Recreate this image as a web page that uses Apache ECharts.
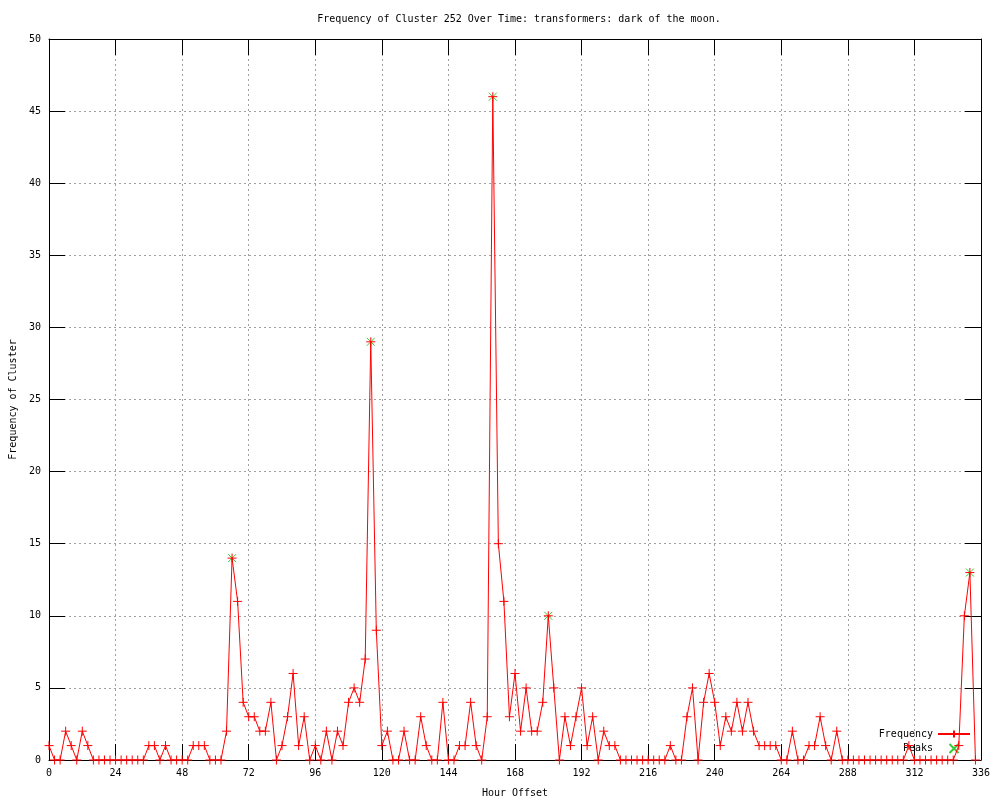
<!DOCTYPE html>
<html>
<head>
<meta charset="utf-8">
<script src="https://cdn.jsdelivr.net/npm/echarts@6/dist/echarts.min.js"></script>
<style>html,body{margin:0;padding:0;background:#fff}#c{width:1000px;height:800px}</style>
</head>
<body>
<div id="c"></div>
<script>
// Frequency per 2-hour step, starting at hour 0
const frequency = [
  1,0,0,2,1,0,2,1,0,0,0,0,
  0,0,0,0,0,0,1,1,0,1,0,0,
  0,0,1,1,1,0,0,0,2,14,11,4,
  3,3,2,2,4,0,1,3,6,1,3,0,
  1,0,2,0,2,1,4,5,4,7,29,9,
  1,2,0,0,2,0,0,3,1,0,0,4,
  0,0,1,1,4,1,0,3,46,15,11,3,
  6,2,5,2,2,4,10,5,0,3,1,3,
  5,1,3,0,2,1,1,0,0,0,0,0,
  0,0,0,0,1,0,0,3,5,0,4,6,
  4,1,3,2,4,2,4,2,1,1,1,1,
  0,0,2,0,0,1,1,3,1,0,2,0,
  0,0,0,0,0,0,0,0,0,0,0,1,
  0,0,0,0,0,0,0,0,1,10,13,0
];
const hourStep = 2;
const peakHours = [66, 116, 160, 180, 332];
const peakValues = [14, 29, 46, 10, 13];

const titleText = 'Frequency of Cluster 252 Over Time: transformers: dark of the moon.';
const xName = 'Hour Offset';
const yName = 'Frequency of Cluster';

const freqData = frequency.map((v, i) => [i * hourStep, v]);
const peakData = peakHours.map((h, i) => [h, peakValues[i]]);

const FONT = 'DejaVu Sans Mono';
const txt = {fontFamily: FONT, fontSize: 10, color: '#000'};
const plus = 'path://M0,5L10,5M5,0L5,10';
const cross = 'path://M0,0L10,10M10,0L0,10';

const chart = echarts.init(document.getElementById('c'), null, {renderer: 'canvas'});
const gridLine = {show: true, lineStyle: {color: '#a0a0a0', width: 1, type: [2, 3]}};
const axLine = {show: true, onZero: false, lineStyle: {color: '#000', width: 1}};
const tick = {show: true, inside: true, length: 16, lineStyle: {color: '#000', width: 1}};

chart.setOption({
  animation: false,
  backgroundColor: '#fff',
  title: {
    text: titleText, left: 514, top: 9, textAlign: 'center',
    textStyle: {fontFamily: FONT, fontSize: 10, fontWeight: 'normal', color: '#000'}
  },
  grid: {left: 49, right: 19, top: 39, bottom: 40, containLabel: false, outerBoundsMode: 'none'},
  legend: {
    orient: 'vertical', right: 24, top: 724, align: 'right',
    itemWidth: 32, itemHeight: 9, itemGap: 4,
    textStyle: txt,
    data: ['Frequency', 'Peaks']
  },
  xAxis: [
    {type: 'value', min: 0, max: 336, interval: 24, position: 'bottom',
     name: xName, nameLocation: 'middle', nameGap: 28, nameTextStyle: txt,
     axisLine: axLine, axisTick: tick, splitLine: gridLine,
     axisLabel: Object.assign({margin: 8}, txt)},
    {type: 'value', min: 0, max: 336, interval: 24, position: 'top',
     axisLine: axLine, axisTick: tick, splitLine: {show: false}, axisLabel: {show: false}}
  ],
  yAxis: [
    {type: 'value', min: 0, max: 50, interval: 5, position: 'left',
     name: yName, nameLocation: 'middle', nameGap: 31, nameRotate: 90, nameTextStyle: txt,
     axisLine: axLine, axisTick: tick, splitLine: gridLine,
     axisLabel: Object.assign({margin: 8}, txt)},
    {type: 'value', min: 0, max: 50, interval: 5, position: 'right',
     axisLine: axLine, axisTick: tick, splitLine: {show: false}, axisLabel: {show: false}}
  ],
  series: [
    {
      name: 'Peaks', type: 'scatter', data: peakData,
      symbol: cross, symbolSize: 8, z: 3,
      itemStyle: {color: 'rgba(0,0,0,0)', borderColor: '#00c000', borderWidth: 1}
    },
    {
      name: 'Frequency', type: 'line', data: freqData,
      symbol: plus, symbolSize: 9, showAllSymbol: true, z: 4,
      lineStyle: {color: '#ff0000', width: 1},
      itemStyle: {color: 'rgba(0,0,0,0)', borderColor: '#ff0000', borderWidth: 1}
    }
  ]
});
</script>
</body>
</html>
